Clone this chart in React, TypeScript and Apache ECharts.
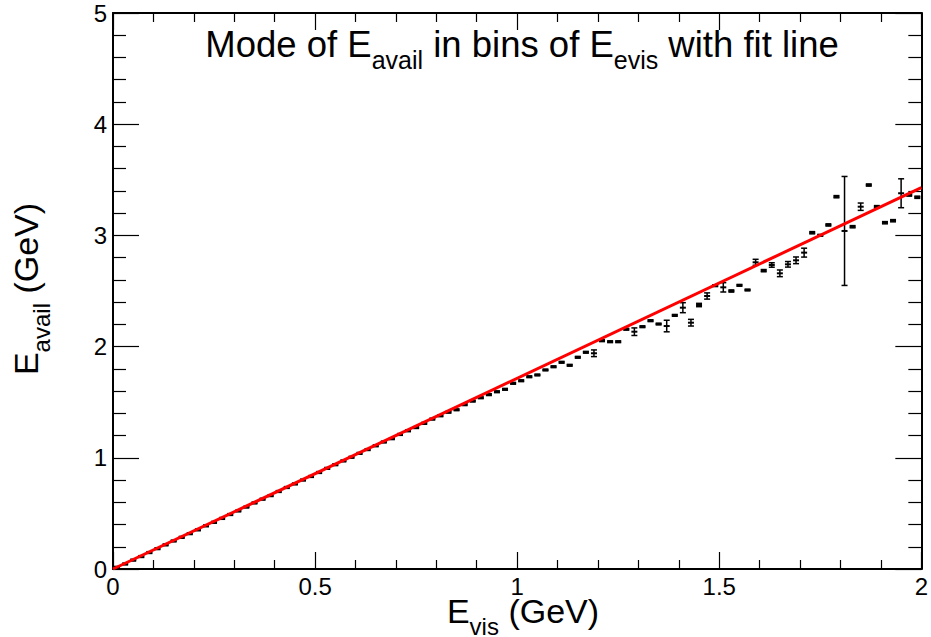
import React, { useEffect, useRef } from "react";
import * as echarts from "echarts";

// Bin centres of E_vis (GeV)
const binCenters = [
  0.01, 0.03, 0.05, 0.07, 0.09, 0.11, 0.13, 0.15, 0.17, 0.19,
  0.21, 0.23, 0.25, 0.27, 0.29, 0.31, 0.33, 0.35, 0.37, 0.39,
  0.41, 0.43, 0.45, 0.47, 0.49, 0.51, 0.53, 0.55, 0.57, 0.59,
  0.61, 0.63, 0.65, 0.67, 0.69, 0.71, 0.73, 0.75, 0.77, 0.79,
  0.81, 0.83, 0.85, 0.87, 0.89, 0.91, 0.93, 0.95, 0.97, 0.99,
  1.01, 1.03, 1.05, 1.07, 1.09, 1.11, 1.13, 1.15, 1.17, 1.19,
  1.21, 1.23, 1.25, 1.27, 1.29, 1.31, 1.33, 1.35, 1.37, 1.39,
  1.41, 1.43, 1.45, 1.47, 1.49, 1.51, 1.53, 1.55, 1.57, 1.59,
  1.61, 1.63, 1.65, 1.67, 1.69, 1.71, 1.73, 1.75, 1.77, 1.79,
  1.81, 1.83, 1.85, 1.87, 1.89, 1.91, 1.93, 1.95, 1.97, 1.99,
];

// Mode of E_avail in each bin (GeV)
const modeValues = [
  0.015, 0.045, 0.080, 0.112, 0.148, 0.183, 0.217, 0.252, 0.285, 0.318,
  0.352, 0.388, 0.420, 0.455, 0.490, 0.522, 0.557, 0.594, 0.628, 0.660,
  0.697, 0.733, 0.765, 0.800, 0.832, 0.868, 0.905, 0.938, 0.972, 1.005,
  1.040, 1.074, 1.108, 1.142, 1.172, 1.210, 1.243, 1.272, 1.310, 1.348,
  1.378, 1.410, 1.432, 1.478, 1.510, 1.540, 1.568, 1.594, 1.616, 1.670,
  1.693, 1.729, 1.745, 1.790, 1.819, 1.859, 1.832, 1.904, 1.949, 1.940,
  2.053, 2.044, 2.044, 2.156, 2.134, 2.179, 2.233, 2.203, 2.185, 2.281,
  2.350, 2.215, 2.374, 2.455, 2.548, 2.533, 2.500, 2.551, 2.509, 2.758,
  2.683, 2.734, 2.659, 2.740, 2.776, 2.845, 3.024, 3.001, 3.094, 3.348,
  3.040, 3.078, 3.258, 3.453, 3.258, 3.114, 3.132, 3.379, 3.363, 3.343,
];

// Error on each mode (GeV)
const modeErrors = [
  0.008, 0.008, 0.008, 0.008, 0.008, 0.008, 0.008, 0.008, 0.008, 0.008,
  0.008, 0.008, 0.008, 0.008, 0.008, 0.008, 0.008, 0.008, 0.008, 0.008,
  0.008, 0.008, 0.008, 0.008, 0.008, 0.008, 0.008, 0.008, 0.008, 0.008,
  0.008, 0.008, 0.008, 0.008, 0.008, 0.008, 0.008, 0.008, 0.008, 0.008,
  0.008, 0.008, 0.008, 0.008, 0.008, 0.008, 0.008, 0.008, 0.008, 0.008,
  0.008, 0.008, 0.008, 0.008, 0.008, 0.008, 0.008, 0.008, 0.008, 0.030,
  0.008, 0.008, 0.008, 0.008, 0.034, 0.008, 0.008, 0.008, 0.052, 0.008,
  0.045, 0.030, 0.015, 0.028, 0.008, 0.042, 0.010, 0.008, 0.008, 0.027,
  0.010, 0.020, 0.030, 0.025, 0.030, 0.040, 0.010, 0.008, 0.010, 0.010,
  0.490, 0.010, 0.033, 0.010, 0.010, 0.010, 0.010, 0.130, 0.010, 0.010,
];

// Fit line end points
const fitX = [0, 2];
const fitY = [0, 3.43];

const xTicks = { min: 0, max: 2, interval: 0.5 };
const yTicks = { min: 0, max: 5, interval: 1 };

const FONT = "'Liberation Sans', Arial, Helvetica, sans-serif";

export default function App() {
  const ref = useRef<HTMLDivElement>(null);

  useEffect(() => {
    if (!ref.current) return;
    const chart = echarts.init(ref.current, undefined, { renderer: "svg" });

    const pts = binCenters.map((x, i) => [x, modeValues[i], modeErrors[i]]);
    const fitData = fitX.map((x, i) => [x, fitY[i]]);

    const axisLine = { show: true, onZero: false, lineStyle: { color: "#000", width: 2 } };

    const xBase = (pos: "bottom" | "top", showLabel: boolean) => ({
      type: "value",
      position: pos,
      min: xTicks.min,
      max: xTicks.max,
      interval: xTicks.interval,
      axisLine,
      axisTick: { show: true, inside: true, length: 17, lineStyle: { color: "#000", width: 1.2 } },
      minorTick: { show: true, splitNumber: 5, length: 9, lineStyle: { color: "#000", width: 1.2 } },
      splitLine: { show: false },
      minorSplitLine: { show: false },
      axisLabel: {
        show: showLabel,
        fontFamily: FONT,
        fontSize: 24,
        lineHeight: 22,
        color: "#000",
        margin: 6,
        showMinLabel: true,
        showMaxLabel: true,
      },
    });

    const yBase = (pos: "left" | "right", showLabel: boolean) => ({
      type: "value",
      position: pos,
      min: yTicks.min,
      max: yTicks.max,
      interval: yTicks.interval,
      axisLine,
      axisTick: { show: true, inside: true, length: 26, lineStyle: { color: "#000", width: 1.2 } },
      minorTick: { show: true, splitNumber: 5, length: 13, lineStyle: { color: "#000", width: 1.2 } },
      splitLine: { show: false },
      minorSplitLine: { show: false },
      axisLabel: {
        show: showLabel,
        fontFamily: FONT,
        fontSize: 24,
        color: "#000",
        margin: 6,
        showMinLabel: true,
        showMaxLabel: true,
      },
    });

    const titleRich = {
      m: { fontSize: 36.5, lineHeight: 36.5, verticalAlign: "top", fontFamily: FONT, color: "#000" },
      s: { fontSize: 25, lineHeight: 25, verticalAlign: "top", padding: [21, 0, 0, 0], fontFamily: FONT, color: "#000" },
    };
    const axisRich = {
      m: { fontSize: 34, lineHeight: 28, verticalAlign: "top", fontFamily: FONT, color: "#000" },
      s: { fontSize: 24, lineHeight: 14, verticalAlign: "top", padding: [20, 0, 0, 0], fontFamily: FONT, color: "#000" },
    };

    chart.setOption({
      animation: false,
      backgroundColor: "#fff",
      grid: { left: 113, right: 2, top: 13, bottom: 68, containLabel: false },
      xAxis: [xBase("bottom", true), xBase("top", false)],
      yAxis: [yBase("left", true), yBase("right", false)],
      graphic: [
        {
          type: "text",
          x: 522,
          y: 26,
          z: 100,
          style: {
            text: "{m|Mode of E}{s|avail}{m| in bins of E}{s|evis}{m| with fit line}",
            rich: titleRich,
            align: "center",
            textAlign: "center",
            verticalAlign: "top",
            textVerticalAlign: "top",
          },
        },
        {
          type: "text",
          x: 523,
          y: 594,
          z: 100,
          style: {
            text: "{m|E}{s|vis}{m| (GeV)}",
            rich: axisRich,
            align: "center",
            textAlign: "center",
            verticalAlign: "top",
            textVerticalAlign: "top",
          },
        },
        {
          type: "text",
          x: 9,
          y: 289,
          rotation: Math.PI / 2,
          z: 100,
          style: {
            text: "{m|E}{s|avail}{m| (GeV)}",
            rich: axisRich,
            align: "center",
            textAlign: "center",
            verticalAlign: "top",
            textVerticalAlign: "top",
          },
        },
      ],
      series: [
        {
          type: "custom",
          xAxisIndex: 0,
          yAxisIndex: 0,
          data: pts,
          z: 2,
          renderItem: (params: any, api: any) => {
            const x = api.value(0);
            const y = api.value(1);
            const e = api.value(2);
            const c = api.coord([x, y]);
            const t = api.coord([x, y + e]);
            const b = api.coord([x, y - e]);
            const hw = 3;
            const style = { stroke: "#000", lineWidth: 1.5, fill: "none" };
            return {
              type: "group",
              children: [
                { type: "line", shape: { x1: c[0], y1: t[1], x2: c[0], y2: b[1] }, style },
                { type: "line", shape: { x1: c[0] - hw, y1: t[1], x2: c[0] + hw, y2: t[1] }, style },
                { type: "line", shape: { x1: c[0] - hw, y1: b[1], x2: c[0] + hw, y2: b[1] }, style },
                { type: "line", shape: { x1: c[0] - hw, y1: c[1], x2: c[0] + hw, y2: c[1] }, style: { ...style, lineWidth: 2 } },
              ],
            };
          },
        },
        {
          type: "line",
          xAxisIndex: 0,
          yAxisIndex: 0,
          data: fitData,
          z: 3,
          symbol: "none",
          lineStyle: { color: "#ff0000", width: 3 },
          silent: true,
        },
      ],
    });

    return () => chart.dispose();
  }, []);

  return (
    <div
      ref={ref}
      style={{ position: "absolute", left: 0, top: 0, width: 931, height: 637, background: "#fff" }}
    />
  );
}
